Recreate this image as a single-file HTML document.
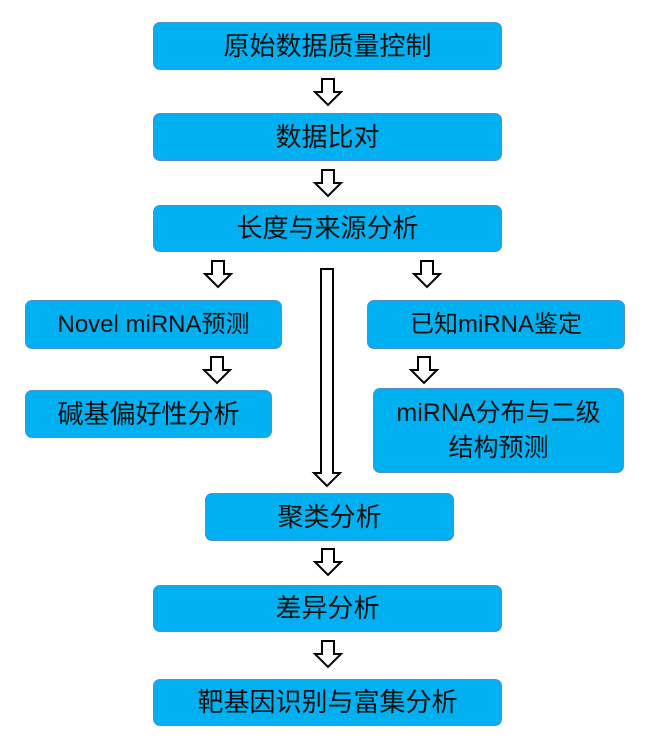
<!DOCTYPE html>
<html><head><meta charset="utf-8"><style>
body{margin:0;background:#fff;width:648px;height:747px;position:relative;overflow:hidden;font-family:"Liberation Sans","Noto Sans CJK SC",sans-serif}
.b{position:absolute;box-sizing:border-box;background:#00B0F0;border:1.5px solid #4F8FD0;border-radius:7px;display:flex;align-items:center;justify-content:center;text-align:center;font-size:26px;color:#111;line-height:35px;white-space:nowrap}
svg{position:absolute;left:0;top:0}
</style></head><body>
<div class="b" style="left:153px;top:22px;width:349px;height:48px">原始数据质量控制</div>
<div class="b" style="left:153px;top:113px;width:349px;height:48px">数据比对</div>
<div class="b" style="left:153px;top:205px;width:349px;height:47px">长度与来源分析</div>
<div class="b" style="left:25px;top:300px;width:257px;height:49px;font-size:24px">Novel miRNA预测</div>
<div class="b" style="left:367px;top:300px;width:258px;height:49px;font-size:24px">已知miRNA鉴定</div>
<div class="b" style="left:25px;top:390px;width:247px;height:48px">碱基偏好性分析</div>
<div class="b" style="left:373px;top:388px;width:251px;height:85px;font-size:25px">miRNA分布与二级<br>结构预测</div>
<div class="b" style="left:205px;top:493px;width:249px;height:48px">聚类分析</div>
<div class="b" style="left:153px;top:585px;width:349px;height:47px">差异分析</div>
<div class="b" style="left:153px;top:679px;width:349px;height:47px">靶基因识别与富集分析</div>
<svg width="648" height="747" fill="#fff" stroke="#000" stroke-width="2">
<polygon points="322,79 334,79 334,92 341,92 328,105 315,92 322,92"/>
<polygon points="322,170 334,170 334,183 341,183 328,196 315,183 322,183"/>
<polygon points="212,261 224,261 224,274 231,274 218,287 205,274 212,274"/>
<polygon points="421,261 433,261 433,274 440,274 427,287 414,274 421,274"/>
<polygon points="211,357 223,357 223,370 230,370 217,383 204,370 211,370"/>
<polygon points="418,357 430,357 430,370 437,370 424,383 411,370 418,370"/>
<polygon points="321,269 333,269 333,473 340,473 327,486 314,473 321,473"/>
<polygon points="322,549 334,549 334,562 341,562 328,575 315,562 322,562"/>
<polygon points="322,641 334,641 334,654 341,654 328,667 315,654 322,654"/>
</svg>
</body></html>
